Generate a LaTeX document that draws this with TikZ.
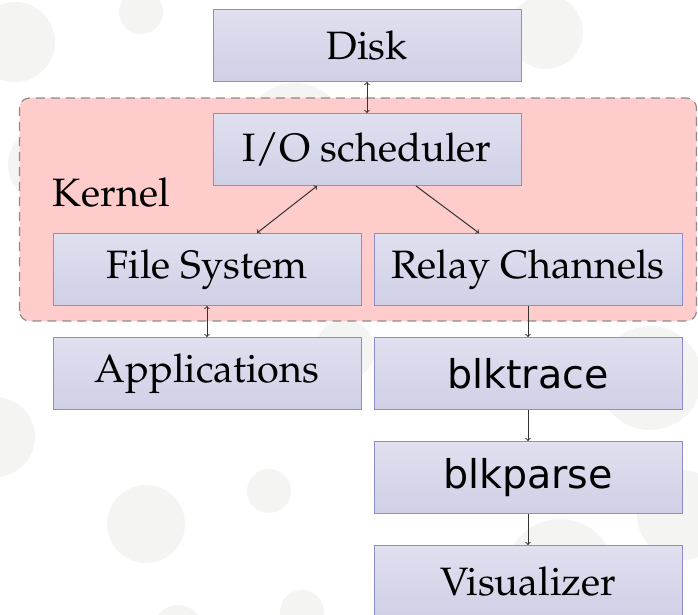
\documentclass[tikz,border=0pt]{standalone}
\usepackage{fontspec}
\usepackage[T1,TU]{fontenc}
\usepackage{tikz}
\usetikzlibrary{positioning,calc,backgrounds}
\newfontfamily\dejavu{DejaVu Sans}
\newcommand\palfont{\fontencoding{T1}\fontfamily{ppl}\selectfont}
\definecolor{boxtop}{RGB}{224,224,240}
\definecolor{boxbot}{RGB}{208,208,231}
\definecolor{boxline}{RGB}{140,140,206}
\definecolor{kernelpink}{RGB}{255,204,204}
\definecolor{dotgray}{RGB}{244,244,242}

\begin{document}
\begin{tikzpicture}[x=1pt, y=1pt, node distance=31pt,
    blk/.style={draw=boxline, line width=1pt, top color=boxtop, bottom color=boxbot,
        minimum width=308pt, minimum height=72pt, inner sep=0pt,
        font=\palfont\fontsize{39.6}{44}\selectfont},
    kernelbox/.style={fill=kernelpink, draw=black!45, line width=1.2pt,
        dash pattern=on 9pt off 6pt, rounded corners=10pt},
    arr/.style={line width=1pt, black!80}]
    \useasboundingbox (0,0) rectangle (698,614);

    \node[blk] (disk) at (367,568.5) {Disk};
    \node[blk, below=31pt of disk] (io) {I/O scheduler};
    \node[blk, below=47pt of io, xshift=-160pt] (fs) {File System};
    \node[blk, right=12pt of fs] (relay) {Relay Channels};
    \node[blk, below=of fs] (apps) {Applications};
    \node[blk, below=of relay, font=\dejavu\fontsize{39.6}{44}\selectfont] (trace) {blktrace};
    \node[blk, below=of trace, font=\dejavu\fontsize{39.6}{44}\selectfont] (parse) {blkparse};
    \node[blk, below=of parse] (vis) {Visualizer};
    \node[anchor=base west, inner sep=0pt, font=\palfont\fontsize{39.6}{44}\selectfont]
        (kernel) at ($(fs.north west)+(0,26pt)$) {Kernel};

    \begin{scope}[on background layer]
        \foreach \cx/\cy/\r in {15/572/40, 141/602/22, 295/479/52, 45/449/37,
            546/582/37, -5/177/40, 146/90/39, 269/123/22, 302/2/22, 178/-16/25,
            650/236/52, 682/99/45, 560/40/55, 345/264/30}
            \fill[dotgray] (\cx,\cy) circle (\r);
        \draw[kernelbox] ($(fs.south west)+(-33pt,-15pt)$) rectangle ($(relay.east |- io.north)+(14pt,15pt)$);
    \end{scope}

    \draw[arr, <->] (disk) -- (io);
    \draw[arr, <->] ([xshift=-50pt]io.south) -- ([xshift=50pt]fs.north);
    \draw[arr, ->] ([xshift=49pt]io.south) -- ([xshift=-49pt]relay.north);
    \draw[arr, <->] (fs) -- (apps);
    \draw[arr, ->] (relay) -- (trace);
    \draw[arr, ->] (trace) -- (parse);
    \draw[arr, ->] (parse) -- (vis);
\end{tikzpicture}
\end{document}
